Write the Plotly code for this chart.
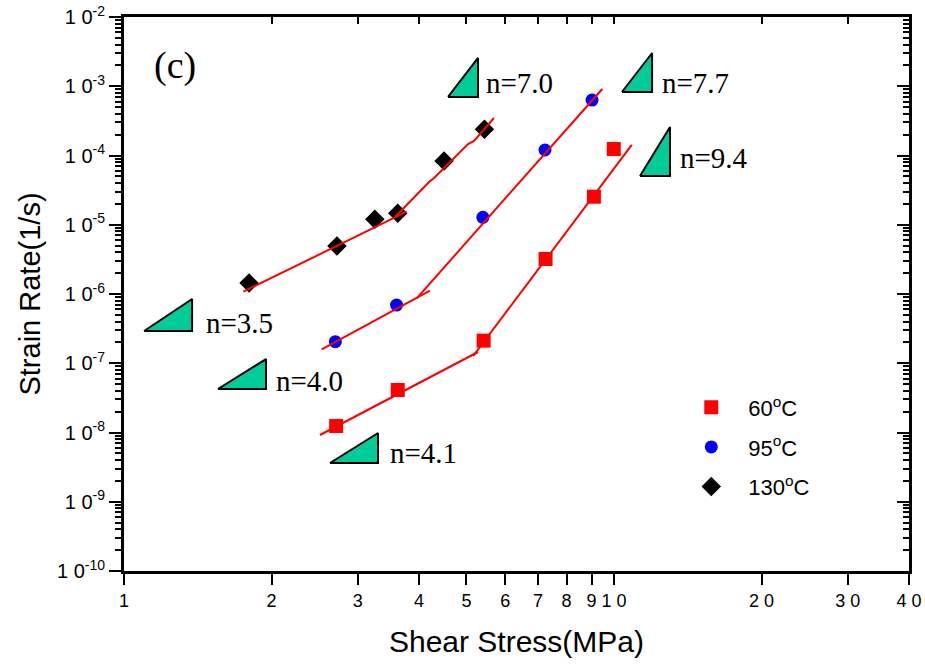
import numpy as np
import plotly.graph_objects as go

# Measured creep data: shear stress (MPa) vs. steady-state strain rate (1/s)
stress_60 = [2.71, 3.62, 5.42, 7.25, 9.10, 9.99]
rate_60 = [1.24e-8, 4.11e-8, 2.12e-7, 3.2e-6, 2.54e-5, 1.24e-4]

stress_95 = [2.70, 3.60, 5.40, 7.23, 9.02]
rate_95 = [2.05e-7, 6.93e-7, 1.28e-5, 1.2e-4, 6.32e-4]

stress_130 = [1.80, 2.72, 3.25, 3.62, 4.50, 5.44]
rate_130 = [1.44e-6, 4.93e-6, 1.2e-5, 1.46e-5, 8.34e-5, 2.39e-4]

# Power-law fit segments (low- and high-stress regimes)
fit_60_low_x = [2.512, 5.279]
fit_60_low_y = [9.2e-9, 1.454e-7]
fit_60_high_x = [5.157, 10.87]
fit_60_high_y = [1.27e-7, 1.42e-4]

fit_95_low_x = [2.532, 4.212]
fit_95_low_y = [1.59e-7, 1.12e-6]
fit_95_high_x = [3.957, 9.466]
fit_95_high_y = [8.67e-7, 9.12e-4]

fit_130_low_x = [1.752, 3.776]
fit_130_low_y = [1.08e-6, 1.545e-5]
fit_130_high_x = [3.573, 4.194, 4.293, 5.037, 5.180, 5.690]
fit_130_high_y = [1.294e-5, 4.14e-5, 4.73e-5, 1.466e-4, 1.62e-4, 3.48e-4]

# Stress-exponent slope triangles: (x_left, x_right, y_bottom, y_top) and labels
tri_labels = ["n=3.5", "n=4.0", "n=4.1", "n=7.0", "n=7.7", "n=9.4"]
tri_x0 = [1.099, 1.555, 2.633, 4.585, 10.38, 11.30]
tri_x1 = [1.377, 1.949, 3.299, 5.278, 11.96, 13.01]
tri_y0 = [2.92e-7, 4.25e-8, 3.63e-9, 7.0e-4, 8.26e-4, 5.06e-5]
tri_y1 = [8.47e-7, 1.15e-7, 9.83e-9, 2.56e-3, 3.02e-3, 2.58e-4]
label_x = [1.457, 2.024, 3.458, 5.43, 12.42, 13.51]
label_y = [3.81e-7, 5.55e-8, 5.06e-9, 1.11e-3, 1.11e-3, 9.2e-5]

x_ticks = [1, 2, 3, 4, 5, 6, 7, 8, 9, 10, 20, 30, 40]
x_ticktext = ["1", "2", "3", "4", "5", "6", "7", "8", "9", "1 0", "2 0", "3 0", "4 0"]
y_exponents = [-10, -9, -8, -7, -6, -5, -4, -3, -2]

SANS = "Arial, Liberation Sans, sans-serif"
SERIF = "Times New Roman, Liberation Serif, serif"
FIT = dict(color="#ff0000", width=2)

fig = go.Figure()

# slope triangles
for x0, x1, y0, y1 in zip(tri_x0, tri_x1, tri_y0, tri_y1):
    fig.add_trace(go.Scatter(
        x=[x0, x1, x1, x0], y=[y0, y0, y1, y0], mode="lines",
        fill="toself", fillcolor="#00cc99",
        line=dict(color="black", width=2), showlegend=False, hoverinfo="skip"))

# data markers
fig.add_trace(go.Scatter(
    x=stress_60, y=rate_60, mode="markers", name="60<sup>o</sup>C", legendgroup="a",
    marker=dict(symbol="square", size=14, color="#ff0000")))
fig.add_trace(go.Scatter(
    x=stress_95, y=rate_95, mode="markers", name="95<sup>o</sup>C", legendgroup="b",
    marker=dict(symbol="circle", size=13, color="#0000ff")))
fig.add_trace(go.Scatter(
    x=stress_130, y=rate_130, mode="markers", name="130<sup>o</sup>C", legendgroup="c",
    marker=dict(symbol="diamond", size=15, color="black")))

# fitted lines
for fx, fy in [(fit_60_low_x, fit_60_low_y), (fit_60_high_x, fit_60_high_y),
               (fit_95_low_x, fit_95_low_y), (fit_95_high_x, fit_95_high_y),
               (fit_130_low_x, fit_130_low_y), (fit_130_high_x, fit_130_high_y)]:
    fig.add_trace(go.Scatter(x=fx, y=fy, mode="lines", line=FIT,
                             showlegend=False, hoverinfo="skip"))

# invisible trace so the mirrored frame axes are drawn
fig.add_trace(go.Scatter(x=[1], y=[1e-10], xaxis="x2", yaxis="y2", mode="markers",
                         marker=dict(opacity=0), showlegend=False, hoverinfo="skip"))

# slope labels
for txt, lx, ly in zip(tri_labels, label_x, label_y):
    fig.add_annotation(x=np.log10(lx), y=np.log10(ly), xref="x", yref="y",
                       text=txt, showarrow=False, xanchor="left", yanchor="middle",
                       font=dict(family=SERIF, size=29, color="black"))

fig.add_annotation(x=0.065, y=0.913, xref="paper", yref="paper", text="(c)",
                   showarrow=False, xanchor="center", yanchor="middle",
                   font=dict(family=SERIF, size=38, color="black"))

minor_y = [k * 10.0 ** e for e in y_exponents[:-1] for k in range(2, 10)]
x_range = [0, np.log10(40)]
y_range = [-10, -2]

axis_common = dict(type="log", showgrid=False, zeroline=False, automargin=False,
                   showline=True, linecolor="black", linewidth=3,
                   tickcolor="black", tickwidth=2)

fig.update_layout(
    width=925, height=667,
    margin=dict(l=124, r=16, t=17, b=96),
    plot_bgcolor="white", paper_bgcolor="white",
    font=dict(family=SANS, color="black"),
    xaxis=dict(**axis_common, range=x_range, tickmode="array",
               tickvals=x_ticks, ticktext=x_ticktext, ticks="outside", ticklen=11,
               tickfont=dict(size=18, family=SANS),
               title=dict(text="Shear Stress(MPa)", font=dict(size=30, family=SANS),
                          standoff=22)),
    yaxis=dict(**axis_common, range=y_range, tickmode="array",
               tickvals=[10.0 ** e for e in y_exponents],
               ticktext=[f"1 0<sup>{e}</sup>" for e in y_exponents],
               ticks="outside", ticklen=12,
               minor=dict(tickmode="array", tickvals=minor_y, ticks="outside",
                          ticklen=6, tickwidth=2, tickcolor="black"),
               tickfont=dict(size=20, family=SANS),
               title=dict(text="Strain Rate(1/s)", font=dict(size=29, family=SANS),
                          standoff=8)),
    xaxis2=dict(**axis_common, range=x_range, overlaying="x", side="top",
                tickmode="array", tickvals=x_ticks, ticks="inside", ticklen=7,
                showticklabels=False),
    yaxis2=dict(**axis_common, range=y_range, overlaying="y", side="right",
                tickmode="array", tickvals=[10.0 ** e for e in y_exponents],
                ticks="inside", ticklen=12,
                minor=dict(tickmode="array", tickvals=minor_y, ticks="inside",
                           ticklen=6, tickwidth=2, tickcolor="black"),
                showticklabels=False),
    legend=dict(x=0.701, y=0.333, xanchor="left", yanchor="top",
                bgcolor="rgba(0,0,0,0)", itemwidth=64, tracegroupgap=8,
                font=dict(size=22, family=SANS)),
)

fig.write_html("out.html")
